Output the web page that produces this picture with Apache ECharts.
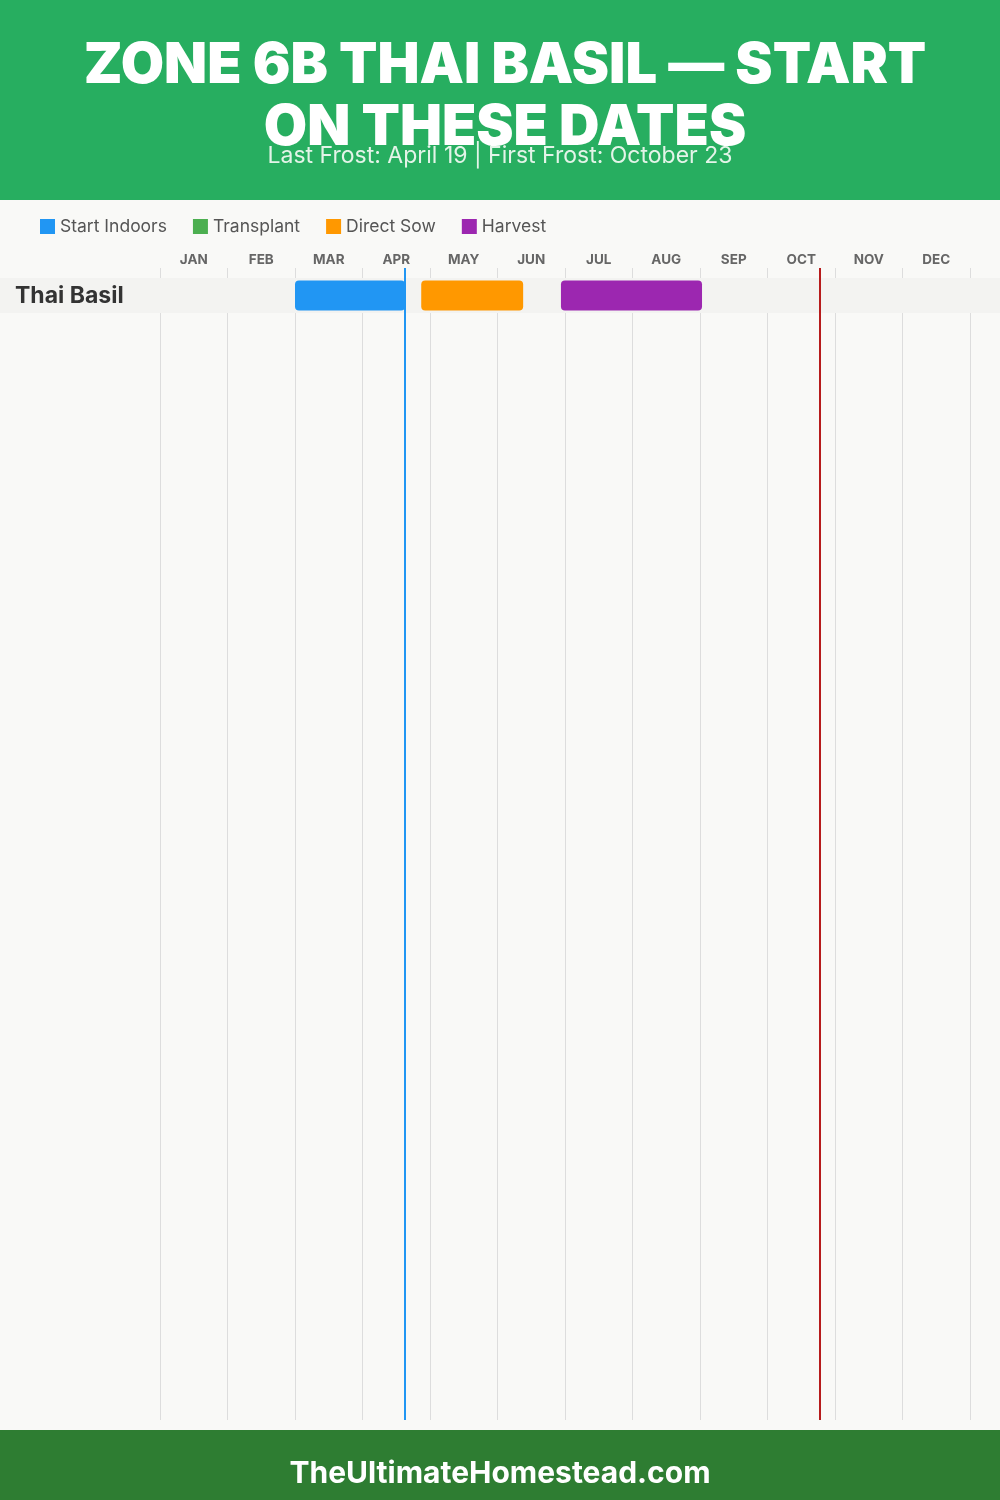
<!DOCTYPE html>
<html>
<head>
<meta charset="utf-8">
<script src="https://cdn.jsdelivr.net/npm/echarts@6/dist/echarts.min.js"></script>
<style>
  html, body { margin: 0; padding: 0; background: #f9f9f7; }
  #chart { width: 1000px; height: 1500px; }
</style>
</head>
<body>
<div id="chart"></div>
<script>
// ---- Data (month index units: 0 = Jan 1, 12 = end of Dec) ----
const months = ['JAN', 'FEB', 'MAR', 'APR', 'MAY', 'JUN', 'JUL', 'AUG', 'SEP', 'OCT', 'NOV', 'DEC'];
const crops = ['Thai Basil'];
const startIndoors = [[2.0, 3.63, 0]];   // Mar 1 – Apr 19
const transplant = [];                   // none
const directSow = [[3.87, 5.38, 0]];     // late Apr – mid Jun
const harvest = [[5.94, 8.03, 0]];       // late Jun – Sep 1
const lastFrost = 3.633;                 // April 19
const firstFrost = 9.767;                // October 23

const titleText = 'ZONE 6B THAI BASIL — START\nON THESE DATES';
const subtitleText = 'Last Frost: April 19 | First Frost: October 23';
const footerText = 'TheUltimateHomestead.com';

const COLORS = {
  'Start Indoors': '#2196F3',
  'Transplant': '#4CAF50',
  'Direct Sow': '#FF9800',
  'Harvest': '#9C27B0'
};
const FONT = 'Inter, "Open Sans", sans-serif';

function barRender(params, api) {
  const s = api.value(0), e = api.value(1), r = api.value(2);
  const p0 = api.coord([s, r]);
  const p1 = api.coord([e, r + 1]);
  return {
    type: 'rect',
    shape: { x: p0[0], y: p0[1] + 2.5, width: p1[0] - p0[0], height: p1[1] - p0[1] - 5, r: 4 },
    style: { fill: api.visual('color') }
  };
}

function makeBarSeries(name, data) {
  return {
    name: name,
    type: 'custom',
    renderItem: barRender,
    encode: { x: [0, 1], y: 2 },
    itemStyle: { color: COLORS[name] },
    data: data,
    z: 5,
    clip: false
  };
}

const chart = echarts.init(document.getElementById('chart'), null, { renderer: 'canvas' });

const option = {
  backgroundColor: '#f9f9f7',
  animation: false,
  color: Object.values(COLORS),
  title: [
    {
      text: titleText,
      left: 500,
      top: 30,
      textAlign: 'center',
      textStyle: { color: '#ffffff', fontSize: 56, fontWeight: 900, fontFamily: FONT, lineHeight: 62 }
    },
    {
      text: subtitleText,
      left: 'center',
      top: 140,
      textStyle: { color: '#e3f4e8', fontSize: 23, fontWeight: 'normal', fontFamily: FONT }
    },
    {
      text: footerText,
      left: 'center',
      top: 1454,
      textStyle: { color: '#ffffff', fontSize: 30, fontWeight: 'bold', fontFamily: FONT }
    }
  ],
  graphic: [
    { type: 'rect', left: 0, top: 0, shape: { width: 1000, height: 200 }, style: { fill: '#27ae60' }, z: -10 },
    { type: 'rect', left: 0, top: 1430, shape: { width: 1000, height: 70 }, style: { fill: '#2e7d32' }, z: -10 }
  ],
  legend: {
    data: ['Start Indoors', 'Transplant', 'Direct Sow', 'Harvest'],
    left: 40,
    top: 217.5,
    padding: 0,
    icon: 'rect',
    itemWidth: 15,
    itemHeight: 15,
    itemGap: 26,
    textStyle: { color: '#555555', fontSize: 17.5, fontFamily: FONT },
    selectedMode: false
  },
  grid: { left: 160, right: 30, top: 268, bottom: 80, containLabel: false },
  xAxis: [
    {
      type: 'value',
      min: 0,
      max: 12,
      interval: 1,
      axisLine: { show: false },
      axisTick: { show: false },
      axisLabel: { show: false },
      splitLine: { show: true, lineStyle: { color: '#dddddd', width: 1 } }
    },
    {
      type: 'category',
      position: 'top',
      data: months,
      boundaryGap: true,
      axisLine: { show: false },
      axisTick: { show: false },
      splitLine: { show: false },
      axisLabel: { color: '#666666', fontSize: 13.5, fontWeight: 'bold', fontFamily: FONT, margin: 1 }
    }
  ],
  yAxis: {
    type: 'value',
    inverse: true,
    min: -10 / 35,
    max: 1142 / 35,
    axisLine: { show: false },
    axisTick: { show: false },
    axisLabel: { show: false },
    splitLine: { show: false }
  },
  series: [
    {
      name: 'rows',
      type: 'custom',
      clip: false,
      z: 1,
      encode: { x: -1, y: 0 },
      data: crops.map((c, i) => [i]),
      renderItem: function (params, api) {
        const r = api.value(0);
        const y0 = api.coord([0, r])[1];
        const y1 = api.coord([0, r + 1])[1];
        return {
          type: 'group',
          children: [
            { type: 'rect', shape: { x: 0, y: y0, width: api.getWidth(), height: y1 - y0 }, style: { fill: '#f3f3f1' } },
            { type: 'text', x: 15, y: (y0 + y1) / 2 + 1, style: { text: crops[params.dataIndex], fill: '#333333', font: 'bold 23px ' + FONT, verticalAlign: 'middle', align: 'left' } }
          ]
        };
      }
    },
    makeBarSeries('Start Indoors', startIndoors),
    makeBarSeries('Transplant', transplant),
    makeBarSeries('Direct Sow', directSow),
    makeBarSeries('Harvest', harvest),
    {
      name: 'frost',
      type: 'line',
      data: [],
      z: 6,
      markLine: {
        silent: true,
        symbol: 'none',
        label: { show: false },
        data: [
          { xAxis: lastFrost, lineStyle: { color: '#2196F3', width: 2, type: 'solid' } },
          { xAxis: firstFrost, lineStyle: { color: '#b71c1c', width: 2, type: 'solid' } }
        ]
      }
    }
  ]
};

chart.setOption(option);
</script>
</body>
</html>
